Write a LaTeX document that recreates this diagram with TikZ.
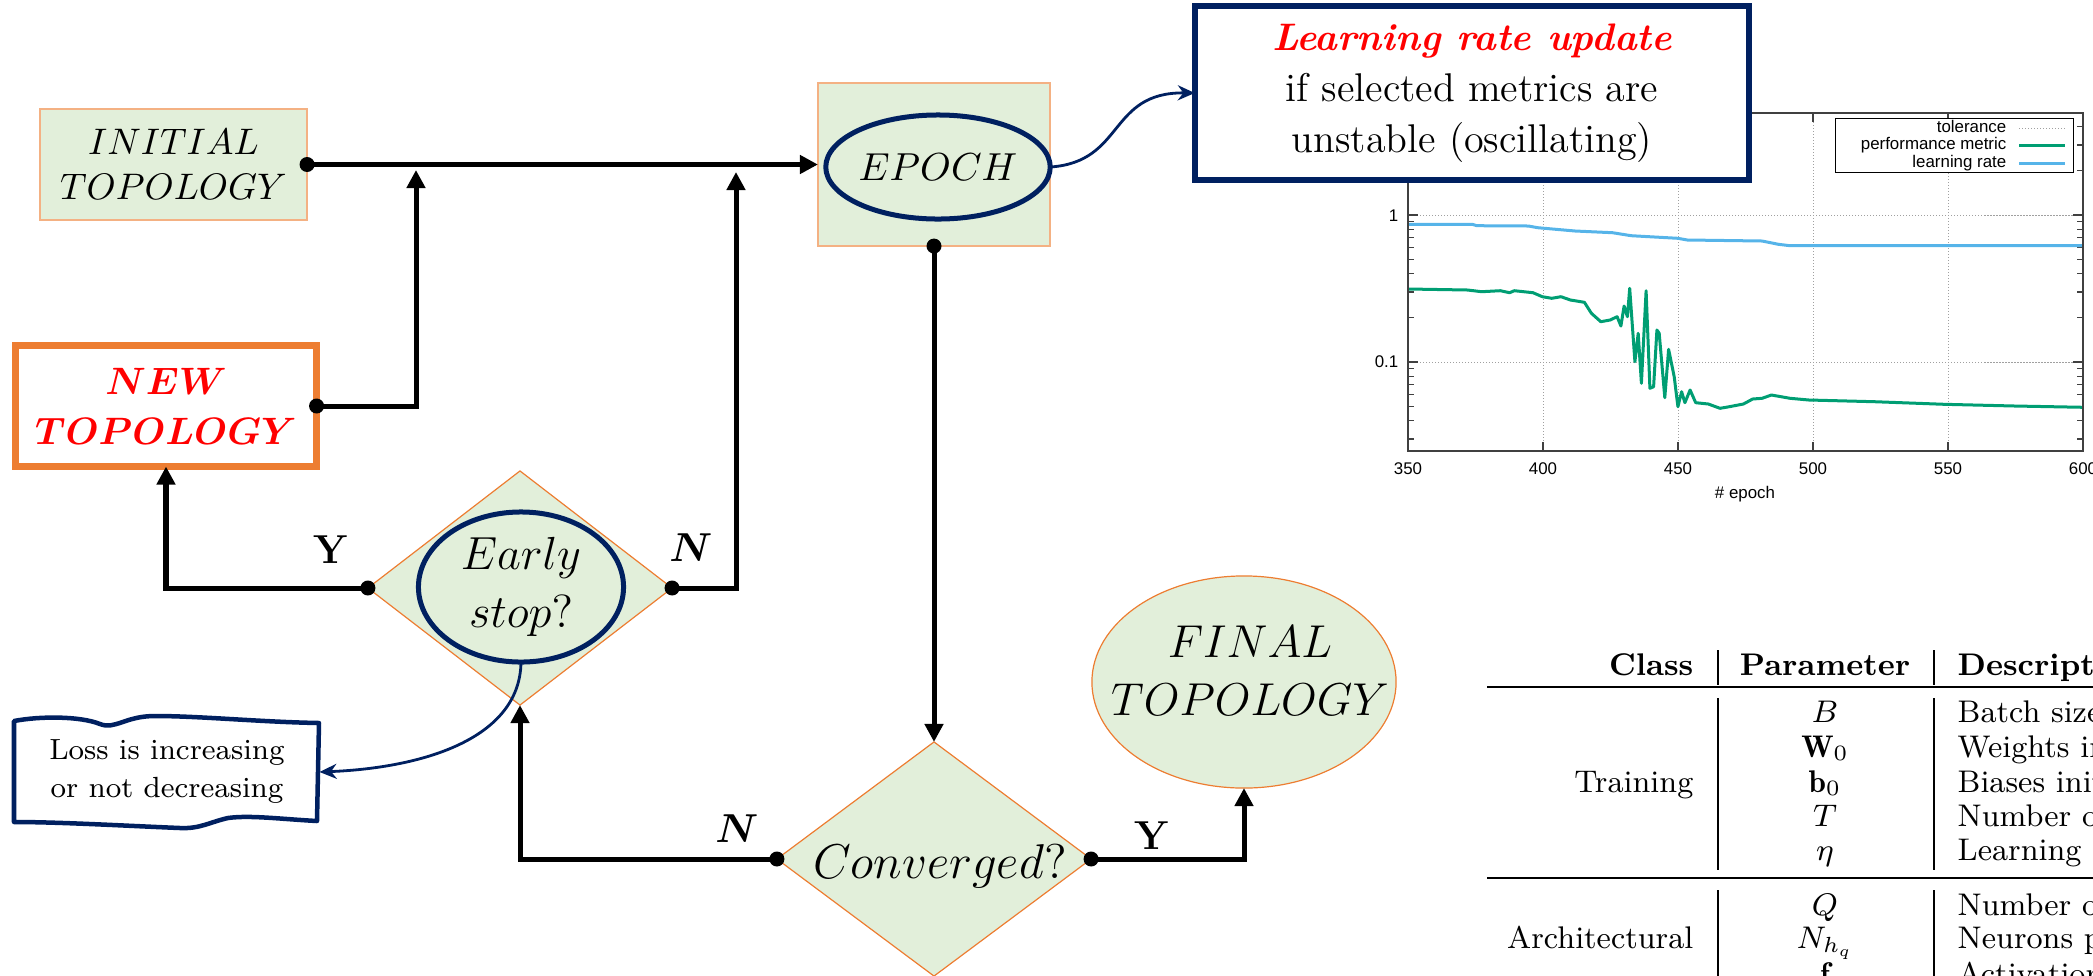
\RequirePackage{fix-cm}
\documentclass[tikz,border=0pt]{standalone}
\usepackage{amsmath}
\usepackage{bm}
\usepackage{fontspec}
\usetikzlibrary{arrows.meta,shapes.geometric}
\newfontfamily\plotfont{Liberation Sans}

\definecolor{navy}{HTML}{002060}
\definecolor{boxfill}{HTML}{E2EFDA}
\definecolor{boxedge}{HTML}{F4B183}
\definecolor{orng}{HTML}{ED7D31}
\definecolor{lrblue}{HTML}{56B4E9}
\definecolor{pmgreen}{HTML}{009E73}
\definecolor{axisgray}{HTML}{404040}
\definecolor{gridgray}{HTML}{A0A0A0}

\tikzset{
  greenbox/.style={rectangle, draw=boxedge, line width=0.015cm, fill=boxfill, inner sep=0pt, outer sep=0pt},
  decision/.style={diamond, draw=orng, line width=0.012cm, fill=boxfill, inner sep=0pt, outer sep=0pt},
  blob/.style={ellipse, draw=navy, line width=0.05cm, inner sep=0pt, outer sep=0pt},
  flowarrow/.style={line width=0.05cm, -{Triangle[length=0.18cm,width=0.18cm]}},
  notearrow/.style={navy, line width=0.028cm, -{Stealth[length=0.17cm,width=0.15cm]}},
  ynlabel/.style={font=\fontsize{11.5}{13}\selectfont, inner sep=0pt},
  tabtext/.style={font=\fontsize{8.9}{10}\selectfont, inner sep=0pt},
  plottext/.style={font=\plotfont\fontsize{4.8}{5.5}\selectfont, inner sep=0pt},
  gridline/.style={gridgray, line width=0.008cm, dash pattern=on 0.012cm off 0.018cm},
  tickline/.style={axisgray, line width=0.012cm},
}

\begin{document}
\begin{tikzpicture}[x=0.01cm, y=-0.01cm]
\useasboundingbox (0,0) rectangle (2093,975);
\clip (0,0) rectangle (2093,975);

% ---------------- training curves (log scale) ----------------
\draw[gridline] (1408,215) -- (2083,215) (1408,362) -- (2083,362);
\foreach \tx in {1543,1678,1813,1948}{\draw[gridline] (\tx,113) -- (\tx,451);}
\foreach \ty in {170.7,144.9,126.5,317.8,291.9,273.5,259.3,247.6,237.8,229.2,221.7,438.9,420.5,406.3,394.6,384.8,376.2,368.7}{
  \draw[tickline] (1408,\ty) -- ++(6,0) (2083,\ty) -- ++(-6,0);
}
\foreach \ty in {215,362}{\draw[tickline] (1408,\ty) -- ++(10,0) (2083,\ty) -- ++(-10,0);}
\foreach \tx in {1408,1543,1678,1813,1948,2083}{\draw[tickline] (\tx,451) -- ++(0,-9) (\tx,113) -- ++(0,9);}

\draw[lrblue, line width=0.03cm, line join=round]
  (1408.2,224.3) -- (1472.2,224.3) -- (1476.9,225.7) -- (1528.3,226) -- (1537.7,227.7)
  -- (1575.1,231) -- (1612.5,232.7) -- (1631.2,235.7) -- (1677.9,238.3) -- (1687.3,240)
  -- (1762.1,241) -- (1778.4,244.3) -- (1790.1,245.7) -- (2083.7,245.7);
\draw[pmgreen, line width=0.03cm, line join=round]
  (1408.2,289) -- (1467.5,290) -- (1481.6,291.7) -- (1500.3,290.7) -- (1509.6,292.7)
  -- (1514.3,290.7) -- (1533,292.7) -- (1542.3,296.7) -- (1551.7,298.3) -- (1561,296.7)
  -- (1570.4,300) -- (1584.4,302.3) -- (1591.4,313.3) -- (1600.8,321.7) -- (1610.1,320)
  -- (1617.1,316.7) -- (1620.9,326) -- (1624.1,306) -- (1627.4,316.7) -- (1629.7,288.3)
  -- (1634.9,361.7) -- (1638.2,333.3) -- (1641.4,383.3) -- (1646.1,290.7) -- (1649.9,388.3)
  -- (1653.6,386.7) -- (1656.9,330) -- (1659.2,333.3) -- (1664.8,397.7) -- (1668.6,349.3)
  -- (1674.2,376.7) -- (1677.9,406.7) -- (1681.6,391.7) -- (1684.9,402.7) -- (1690.1,390)
  -- (1695.7,402.7) -- (1708.3,404) -- (1720,408.3) -- (1729.3,406.7) -- (1743.4,404)
  -- (1752.7,399) -- (1762.1,398.3) -- (1771.4,395) -- (1790.1,398.3) -- (1808.8,400)
  -- (1874.3,401.7) -- (1944.4,404.3) -- (2014.5,406) -- (2083.7,407.3);
\draw[axisgray, line width=0.015cm] (1408,113) rectangle (2083,451);

\foreach \tx/\lab in {1408/350,1543/400,1678/450,1813/500,1948/550,2083/600}{
  \node[plottext, anchor=base] (xtick\lab) at (\tx,474) {\lab};
}
\node[plottext, anchor=base] (xaxis) at (1745,498) {\# epoch};
\node[plottext, anchor=base east] (yone) at (1399,221) {1};
\node[plottext, anchor=base east] (ytenth) at (1399,367) {0.1};

\draw[black, line width=0.01cm, fill=white] (1835,118) rectangle (2073,172);
\node[plottext, anchor=base east] (legtol) at (2007,132) {tolerance};
\node[plottext, anchor=base east] (legpm) at (2007,149.5) {performance metric};
\node[plottext, anchor=base east] (leglr) at (2007,167) {learning rate};
\draw[gridline] (2019,128) -- (2065,128);
\draw[pmgreen, line width=0.03cm] (2019,145.5) -- (2065,145.5);
\draw[lrblue, line width=0.03cm] (2019,163) -- (2065,163);

% ---------------- hyper-parameter table ----------------
\draw[line width=0.028cm] (1487,687) -- (2093,687);
\draw[line width=0.018cm] (1487,878) -- (2093,878);
\draw[line width=0.011cm] (1718,650) -- (1718,685) (1934,650) -- (1934,685)
  (1718,698) -- (1718,870) (1934,698) -- (1934,870)
  (1718,890) -- (1718,980) (1934,890) -- (1934,980);
\node[tabtext, font=\fontsize{8.9}{10}\selectfont\bfseries, anchor=base east] (hclass) at (1694,675) {Class};
\node[tabtext, font=\fontsize{8.9}{10}\selectfont\bfseries, anchor=base] (hparam) at (1825,675) {Parameter};
\node[tabtext, font=\fontsize{8.9}{10}\selectfont\bfseries, anchor=base west] (hdesc) at (1957,675) {Descript};
\node[tabtext, anchor=base east] (ctrain) at (1694,792) {Training};
\node[tabtext, anchor=base east] (carch) at (1694,948) {Architectural};
\foreach \by/\sym/\desc [count=\i] in {
  722/{$B$}/{Batch size},
  757/{$\mathbf{W}_0$}/{Weights in},
  792/{$\mathbf{b}_0$}/{Biases init},
  826/{$T$}/{Number of},
  860/{$\eta$}/{Learning r},
  915/{$Q$}/{Number of},
  948/{$N_{h_q}$}/{Neurons p},
  984/{$\mathbf{f}$}/{Activation}}{
  \node[tabtext, anchor=base] (sym\i) at (1825,\by) {\sym};
  \node[tabtext, anchor=base west] (desc\i) at (1957,\by) {\desc};
}

% ---------------- flowchart ----------------
\node[greenbox, minimum width=2.67cm, minimum height=1.11cm, align=center,
      font=\fontsize{10.5}{13}\selectfont] (init) at (173.5,164.5) {$INITIAL$\\$TOPOLOGY$};
\node[rectangle, draw=orng, line width=0.07cm, fill=white, minimum width=3.01cm, minimum height=1.21cm,
      inner sep=0pt, outer sep=0pt, align=center, text=red,
      font=\fontsize{10.85}{14.2}\selectfont] (newtop) at (166,406) {$\bm{NEW}$\\$\bm{TOPOLOGY}$};
\node[greenbox, minimum width=2.32cm, minimum height=1.63cm] (epoch) at (934,164.5) {};
\node[blob, minimum width=2.07cm, minimum height=1.04cm, font=\fontsize{11.1}{13}\selectfont] (epblob) at (938,167) {$EPOCH$};

\node[decision, minimum width=3.04cm, minimum height=2.34cm] (early) at (520,588) {};
\node[blob, minimum width=2.05cm, minimum height=1.5cm, align=center,
      font=\fontsize{13.2}{16.3}\selectfont] (esblob) at (521,587) {$Early$\\$stop?$};

\node[decision, minimum width=3.14cm, minimum height=2.34cm] (conv) at (934,859) {};
\node[inner sep=0pt, font=\fontsize{13.9}{16}\selectfont] (convtxt) at (940,866) {$Converged?$};

\node[ellipse, draw=orng, line width=0.012cm, fill=boxfill, minimum width=3.04cm, minimum height=2.12cm,
      inner sep=0pt, outer sep=0pt] (final) at (1244,682) {};
\node[align=center, inner sep=0pt, font=\fontsize{13.1}{16.5}\selectfont] (finaltxt) at (1250,671) {$FINAL$\\$TOPOLOGY$};

% learning-rate note
\node[rectangle, draw=navy, line width=0.06cm, fill=white, minimum width=5.54cm, minimum height=1.74cm,
      inner sep=0pt, outer sep=0pt, align=center, font=\fontsize{11.4}{14.5}\selectfont] (lr) at (1472,93)
  {{\color{red}\fontsize{10.9}{14.5}\selectfont\bfseries\itshape Learning rate update}\\
   if selected metrics are\\ unstable (oscillating)};

% early-stop note with a wavy outline
\draw[navy, line width=0.045cm, line join=round]
  (14,721) .. controls (40,716) and (80,716) .. (100,724)
  .. controls (115,730) and (125,716) .. (155,716)
  .. controls (200,716) and (260,722) .. (319,723)
  -- (317,821)
  .. controls (280,819) and (250,815) .. (228,818)
  .. controls (210,822) and (200,829) .. (180,828)
  .. controls (130,826) and (60,822) .. (14,822) -- cycle;
\node[minimum width=3.05cm, minimum height=1.02cm, inner sep=0pt, outer sep=0pt, align=center,
      font=\fontsize{8.3}{10.8}\selectfont] (loss) at (167,772) {Loss is increasing\\or not decreasing};

% connectors
\coordinate (joinA) at (416,170);
\coordinate (joinB) at (736,172);
\draw[flowarrow] (init.east) -- (epoch.west);
\draw[flowarrow] (newtop.east) -| (joinA);
\draw[flowarrow] (early.east) -| (joinB);
\draw[flowarrow] (early.west) -| (newtop.south);
\draw[flowarrow] (epoch.south) -- (conv.north);
\draw[flowarrow] (conv.west) -| (early.south);
\draw[flowarrow] (conv.east) -| (final.south);
\foreach \j in {init.east, newtop.east, early.west, early.east, epoch.south, conv.west, conv.east}{
  \fill (\j) circle[radius=0.075cm];
}

\draw[notearrow] (esblob.south) .. controls (520,740) and (420,768) .. (loss.east);
\draw[notearrow] (epblob.east) .. controls (1125,162) and (1108,92) .. (lr.west);

% branch labels
\node[ynlabel] (yearly) at (331,550) {\textbf{Y}};
\node[ynlabel] (nearly) at (691,548) {$\bm{N}$};
\node[ynlabel] (nconv) at (737,829) {$\bm{N}$};
\node[ynlabel] (yconv) at (1152,836) {\textbf{Y}};
\end{tikzpicture}
\end{document}
